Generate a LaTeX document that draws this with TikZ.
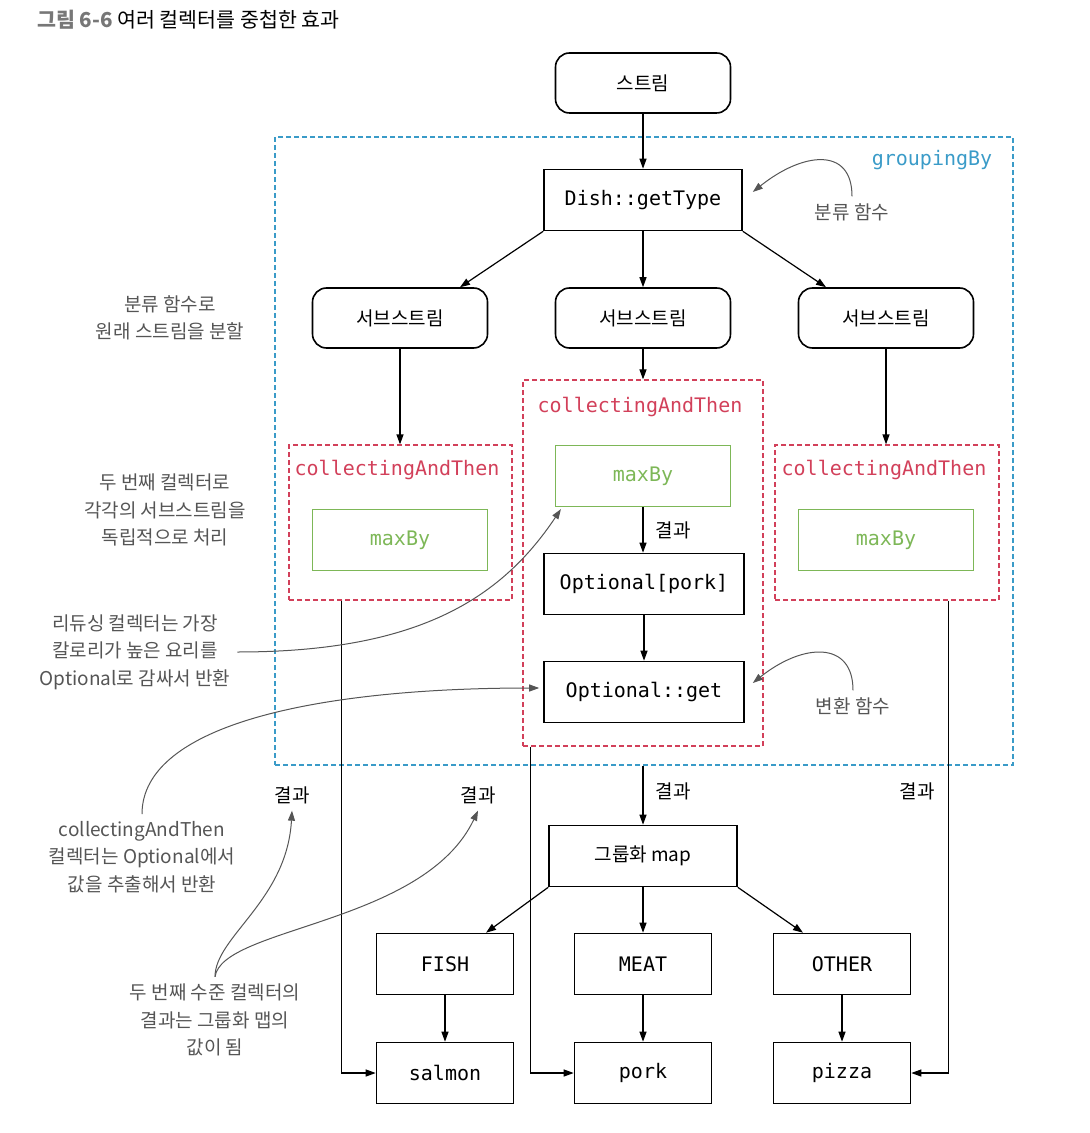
\documentclass[tikz,border=0pt]{standalone}
\usepackage{fontspec}
\setmainfont{Noto Sans CJK KR}
\setmonofont{DejaVu Sans Mono}
\usetikzlibrary{arrows.meta}

\definecolor{grpblue}{HTML}{3A9BC8}
\definecolor{catred}{HTML}{D2405A}
\definecolor{maxgreen}{HTML}{7DB757}
\definecolor{notegray}{HTML}{555555}
\definecolor{titlegray}{HTML}{777777}

\begin{document}
\begin{tikzpicture}[x=0.5pt, y=-0.5pt]
        \tikzstyle{stream_box} = [shape = rectangle, rounded corners=7pt, draw = black, line width=0.8pt,
                                  minimum width=87.5pt, minimum height=30pt, font=\fontsize{9.5}{12}\selectfont]
        \tikzstyle{code_box}   = [shape = rectangle, draw = black, line width=0.8pt, minimum width=68.5pt,
                                  minimum height=30.5pt, font=\ttfamily\fontsize{10}{12}\selectfont]
        \tikzstyle{max_box}    = [shape = rectangle, draw = maxgreen, line width=0.6pt, text = maxgreen,
                                  minimum width=87.5pt, minimum height=30.5pt, font=\ttfamily\fontsize{10}{12}\selectfont]
        \tikzstyle{cat_frame}  = [shape = rectangle, draw = catred, line width=0.6pt, dash pattern=on 2.5pt off 1.5pt]
        \tikzstyle{cat_label}  = [text = catred, font=\ttfamily\fontsize{10}{12}\selectfont]
        \tikzstyle{grp_frame}  = [shape = rectangle, draw = grpblue, line width=0.6pt, dash pattern=on 2.5pt off 1.5pt]
        \tikzstyle{note}       = [align = center, text = notegray, font=\fontsize{9.5}{13.75}\selectfont]
        \tikzstyle{result}     = [font=\fontsize{9.5}{12}\selectfont]
        \tikzstyle{arr}        = [-{Triangle[length=5pt, width=3.5pt]}, line width=0.6pt]
        \tikzstyle{note_arr}   = [-{Triangle[length=5pt, width=3.5pt]}, line width=0.5pt, draw = notegray]

        \useasboundingbox (0,0) rectangle (1089,1133);

        \node[anchor=west] at (30,20) (title)
          {\fontsize{10.3}{12}\selectfont\textcolor{titlegray}{\bfseries 그림 6-6} 여러 컬렉터를 중첩한 효과};

        % frames
        \node[grp_frame, minimum width=369pt, minimum height=314pt] at (644,451) (grp) {};
        \node[text = grpblue, font=\ttfamily\fontsize{10}{12}\selectfont] at (932,160) (grp_l) {groupingBy};

        \node[cat_frame, minimum width=111.5pt, minimum height=77.5pt] at (400.5,522.5) (cat1) {};
        \node[cat_frame, minimum width=120pt,   minimum height=183pt]  at (643,563)     (cat2) {};
        \node[cat_frame, minimum width=112pt,   minimum height=77.5pt] at (887,522.5)   (cat3) {};
        \node[cat_label] at (397,470) (cat1_l) {collectingAndThen};
        \node[cat_label] at (640,407) (cat2_l) {collectingAndThen};
        \node[cat_label] at (884,470) (cat3_l) {collectingAndThen};

        % boxes
        \node[stream_box] at (643,83) (stream) {스트림};
        \node[code_box, minimum width=99pt] at (643,200) (getType) {Dish::getType};

        \node[stream_box] at (400,318) (sub1) {서브스트림};
        \node[stream_box] at (643,318) (sub2) {서브스트림};
        \node[stream_box] at (886,318) (sub3) {서브스트림};

        \node[max_box] at (400,540) (max1) {maxBy};
        \node[max_box] at (643,476) (max2) {maxBy};
        \node[max_box] at (886,540) (max3) {maxBy};

        \node[code_box, minimum width=100pt] at (644,584) (opt) {Optional[pork]};
        \node[code_box, minimum width=100pt] at (644,692) (get) {Optional::get};

        \node[code_box, minimum width=94pt, font=\fontsize{9.5}{12}\selectfont] at (643,856) (map) {그룹화 map};

        \node[code_box] at (445,964) (fish)   {FISH};
        \node[code_box] at (643,964) (meat)   {MEAT};
        \node[code_box] at (842,964) (other)  {OTHER};
        \node[code_box] at (445,1073) (salmon) {salmon};
        \node[code_box] at (643,1073) (pork)   {pork};
        \node[code_box] at (842,1073) (pizza)  {pizza};

        % result labels
        \node[result] at (673,530) (res_opt) {결과};
        \node[result] at (292,795) (res1) {결과};
        \node[result] at (478,795) (res2) {결과};
        \node[result] at (673,791) (res3) {결과};
        \node[result] at (917,791) (res4) {결과};

        % notes
        \node[note] at (170,318) (n_split)   {분류 함수로\\원래 스트림을 분할};
        \node[note] at (165,510) (n_each)    {두 번째 컬렉터로\\각각의 서브스트림을\\독립적으로 처리};
        \node[note] at (135,652) (n_reduce)  {리듀싱 컬렉터는 가장\\칼로리가 높은 요리를\\Optional로 감싸서 반환};
        \node[note] at (142,857) (n_extract) {collectingAndThen\\컬렉터는 Optional에서\\값을 추출해서 반환};
        \node[note] at (215,1020) (n_value)  {두 번째 수준 컬렉터의\\결과는 그룹화 맵의\\값이 됨};
        \node[note] at (852,212) (n_classify)  {분류 함수};
        \node[note] at (853,706) (n_transform) {변환 함수};

        \path[arr]
          (stream) edge (getType)
          (getType.south west) edge ([xshift=30pt]sub1.north)
          (getType) edge (sub2)
          (getType.south east) edge ([xshift=-30pt]sub3.north)
          (sub1) edge (cat1.north -| sub1)
          (sub2) edge (cat2.north -| sub2)
          (sub3) edge (cat3.north -| sub3)
          (max2) edge (max2 |- opt.north)
          (opt.south -| get) edge (get)
          (grp.south -| map) edge (map)
          (map.south west) edge ([xshift=20.5pt]fish.north)
          (map) edge (meat)
          (map.south east) edge ([xshift=-19.5pt]other.north)
          (fish) edge (salmon)
          (meat) edge (pork)
          (other) edge (pizza)
        ;

        \draw[arr] ([xshift=26.5pt]cat1.south west) |- (salmon.west);
        \draw[arr] ([xshift=4pt]cat2.south west) |- (pork.west);
        \draw[arr] ([xshift=-25.5pt]cat3.south east) |- (pizza.east);

        \draw[note_arr] (n_classify.north) .. controls +(0,-50) and +(50,-40) .. ([xshift=5pt, yshift=4pt]getType.east);
        \draw[note_arr] (n_transform.north) .. controls +(0,-50) and +(50,-40) .. ([xshift=4pt, yshift=4.5pt]get.east);
        \draw[note_arr] (n_reduce.east) .. controls +(180,0) and +(-60,90) .. ([xshift=3pt, yshift=-1pt]max2.south west);
        \draw[note_arr] (n_extract.north) .. controls +(0,-90) and +(-220,0) .. ([xshift=-2pt, yshift=2pt]get.west);
        \draw[note_arr] (n_value.north) .. controls +(0,-40) and +(-5,90) .. (res1.south);
        \draw[note_arr] (n_value.north) .. controls +(7,-50) and +(-54,114) .. (res2.south);
      \end{tikzpicture}
\end{document}
